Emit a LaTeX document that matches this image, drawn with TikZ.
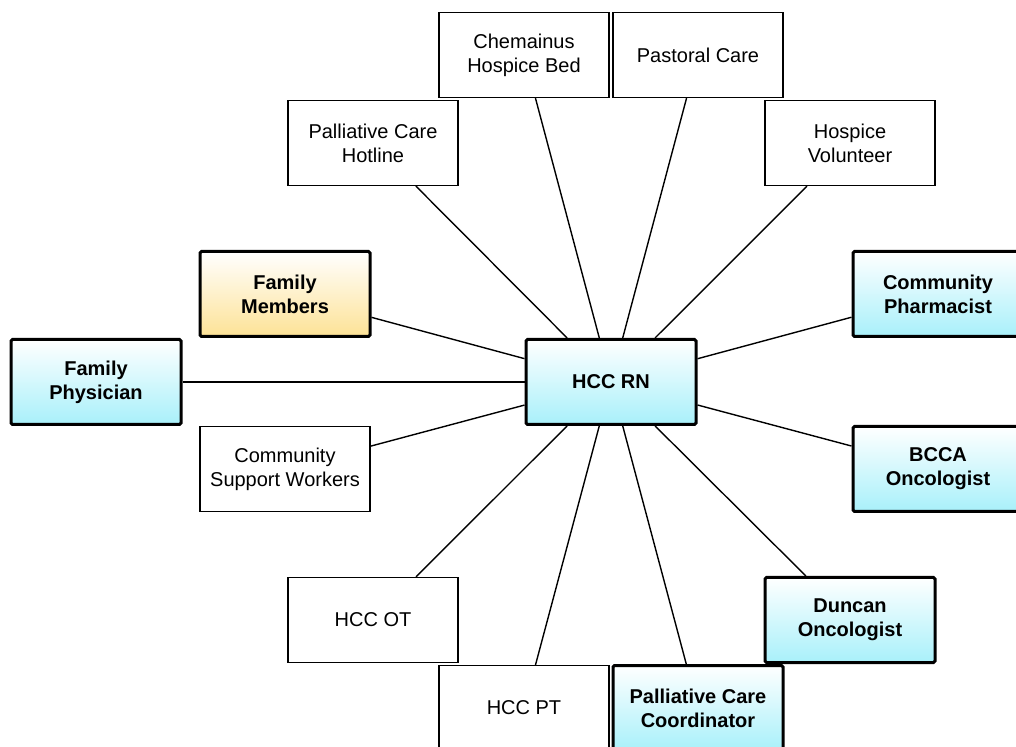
\documentclass[tikz,border=0pt]{standalone}
\usepackage{fontspec}
\setmainfont{Liberation Sans}
\usepackage{tikz}
\usetikzlibrary{positioning}
\definecolor{rncyan}{RGB}{168,240,250}
\definecolor{famgold}{RGB}{253,226,150}

\begin{document}
\begin{tikzpicture}[
    x=0.5pt, y=-0.5pt,
    every node/.style={font=\normalsize, align=center},
    box/.style={draw, line width=0.6pt, fill=white, minimum width=85pt, minimum height=42.5pt, inner sep=2pt},
    keybox/.style={draw, line width=1.5pt, rounded corners=0.8pt, minimum width=85pt, minimum height=42.5pt, inner sep=2pt, font=\normalsize\bfseries, top color=white, bottom color=rncyan},
    famkey/.style={keybox, bottom color=famgold},
    link/.style={line width=0.7pt}
]
\useasboundingbox (0,0) rectangle (1016,747);
\clip (0,0) rectangle (1016,747);

% centre
\node[keybox] (rn) at (611,382) {HCC RN};

% top row
\node[box] (bed) at (524,55) {Chemainus\\Hospice Bed};
\node[box] (pastoral) at (698,55) {Pastoral Care};
\node[box] (hotline) at (373,143) {Palliative Care\\Hotline};
\node[box] (volunteer) at (850,143) {Hospice\\Volunteer};

% sides
\node[famkey] (family) at (285,294) {Family\\Members};
\node[keybox] (pharm) at (938,294) {Community\\Pharmacist};
\node[keybox] (physician) at (96,382) {Family\\Physician};
\node[box] (support) at (285,469) {Community\\Support Workers};
\node[keybox] (bcca) at (938,469) {BCCA\\Oncologist};

% bottom row
\node[box] (ot) at (373,620) {HCC OT};
\node[keybox] (duncan) at (850,620) {Duncan\\Oncologist};
\node[box] (pt) at (524,708) {HCC PT};
\node[keybox] (coord) at (698,708) {Palliative Care\\Coordinator};

\foreach \n in {bed,pastoral,hotline,volunteer,family,pharm,physician,support,bcca,ot,duncan,pt,coord}
    \draw[link] (rn) -- (\n);

\end{tikzpicture}
\end{document}
